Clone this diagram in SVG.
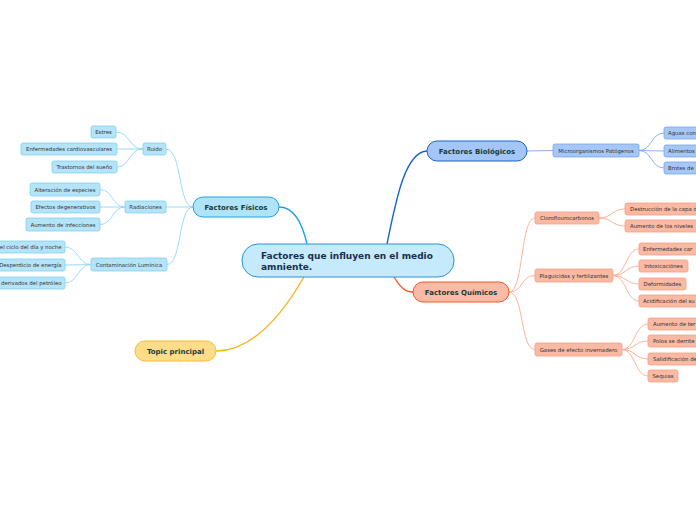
<svg xmlns="http://www.w3.org/2000/svg" width="696" height="520" viewBox="0 0 696 520">
<style>
text{font-family:"DejaVu Sans","Verdana",sans-serif}
.lf{font-size:5.4px;fill:#333}
.mn{font-size:7px;font-weight:bold;fill:#1a3b3a}
.c{text-anchor:middle}
.e{text-anchor:end}
.con path{fill:none}
.fm{stroke:#1ea3e0;stroke-width:1.4}
.fs{stroke:#8ed6f4;stroke-width:0.9}
.bm{stroke:#1b63c6;stroke-width:1.4}
.bs{stroke:#7aa8ee;stroke-width:0.9}
.qm{stroke:#ef5a2b;stroke-width:1.4}
.qs{stroke:#f9a98e;stroke-width:0.9}
.tm{stroke:#f7b521;stroke-width:1.4}
.fl{fill:#b5e4f9;stroke:#7dd0f2;stroke-width:0.8}
.bl{fill:#a6c7f6;stroke:#76a5ec;stroke-width:0.8}
.ql{fill:#f9b9a3;stroke:#f7a084;stroke-width:0.8}
</style>
<rect width="696" height="520" fill="#fff"/>
<g id="connectors" class="con">
<path class="fm" d="M307,244 C302,222 294,207 279,207"/>
<path class="bm" d="M387,244 C396,200 405,152 427,151"/>
<path class="qm" d="M394,277 C400,287 405,292 413,292"/>
<path class="tm" d="M304,277 C282,315 252,351 216,351"/>
<path class="fs" d="M193,207 C178,207 182,149 166,149"/>
<path class="fs" d="M193,207 L166,207"/>
<path class="fs" d="M193,207 C178,207 182,264.5 167,264.5"/>
<path class="fs" d="M143,149 C129,149 130,132 116,132"/>
<path class="fs" d="M143,149 L117,149"/>
<path class="fs" d="M143,149 C129,149 130,167 117,167"/>
<path class="fs" d="M125,207 C112,207 113,189.5 100,189.5"/>
<path class="fs" d="M125,207 L100,207"/>
<path class="fs" d="M125,207 C112,207 113,224.5 100,224.5"/>
<path class="fs" d="M91,264.5 C78,264.5 78,247 65,247"/>
<path class="fs" d="M91,264.5 L65,265"/>
<path class="fs" d="M91,264.5 C78,264.5 78,283 65,283"/>
<path class="bs" d="M527,151 L553,150.5"/>
<path class="bs" d="M639,150.5 C652,150.5 651,133 664,133"/>
<path class="bs" d="M639,150.5 L664,151"/>
<path class="bs" d="M639,150.5 C652,150.5 651,168 664,168"/>
<path class="qs" d="M509,292 C524,292 520,218 535,218"/>
<path class="qs" d="M509,292 C524,292 520,275.5 535,275.5"/>
<path class="qs" d="M509,292 C524,292 520,349.5 535,349.5"/>
<path class="qs" d="M599,218 C612,218 612,209 625,209"/>
<path class="qs" d="M599,218 C612,218 612,226 625,226"/>
<path class="qs" d="M613,275.5 C626,275.5 626,249 639,249"/>
<path class="qs" d="M613,275.5 C626,275.5 626,266 639,266"/>
<path class="qs" d="M613,275.5 C626,275.5 626,284 639,284"/>
<path class="qs" d="M613,275.5 C626,275.5 626,301 639,301"/>
<path class="qs" d="M622,349.5 C635,349.5 635,324 648,324"/>
<path class="qs" d="M622,349.5 C635,349.5 635,341 648,341"/>
<path class="qs" d="M622,349.5 C635,349.5 635,359 648,359"/>
<path class="qs" d="M622,349.5 C635,349.5 635,376 648,376"/>
</g>
<g id="central">
<rect x="242" y="244" width="212" height="33" rx="16" fill="#c5eafb" stroke="#2a93d5" stroke-width="1"/>
<text x="261" y="259" font-size="9" font-weight="bold" fill="#1a2e4d">Factores que influyen en el medio</text>
<text x="261" y="270" font-size="9" font-weight="bold" fill="#1a2e4d">amniente.</text>
</g>
<g id="fisicos">
<rect x="193" y="197" width="86" height="20" rx="10" fill="#aee3f8" stroke="#1ea3e0" stroke-width="1"/>
<text class="mn c" x="236" y="209.5">Factores Físicos</text>
</g>
<g id="biologicos">
<rect x="427" y="141" width="100" height="20" rx="10" fill="#a4c6f7" stroke="#1b63c6" stroke-width="1"/>
<text class="mn c" x="477" y="153.5">Factores Biológicos</text>
</g>
<g id="quimicos">
<rect x="413" y="282" width="96" height="20" rx="10" fill="#f9bba5" stroke="#ef5a2b" stroke-width="1"/>
<text class="mn c" x="461" y="294.5">Factores Químicos</text>
</g>
<g id="topic">
<rect x="135" y="341" width="81" height="20" rx="10" fill="#fddc8a" stroke="#f7bc35" stroke-width="1"/>
<text class="mn c" x="175.5" y="353.5">Topic principal</text>
</g>
<g id="ruido"><rect class="fl" x="143" y="143" width="23" height="12" rx="2"/><text class="lf c" x="154.5" y="151">Ruido</text></g>
<g id="estres"><rect class="fl" x="91" y="126" width="25" height="12" rx="2"/><text class="lf c" x="103.5" y="134">Estres</text></g>
<g id="enfcardio"><rect class="fl" x="21" y="143" width="96" height="12" rx="2"/><text class="lf c" x="69" y="151">Enfermedades cardiovasculares</text></g>
<g id="trastornos"><rect class="fl" x="52" y="161" width="65" height="12" rx="2"/><text class="lf c" x="84.5" y="169">Trastornos del sueño</text></g>
<g id="radiaciones"><rect class="fl" x="125" y="201" width="41" height="12" rx="2"/><text class="lf c" x="145.5" y="209">Radiaciones</text></g>
<g id="alteracion"><rect class="fl" x="30" y="183" width="70" height="13" rx="2"/><text class="lf c" x="65" y="191.5">Alteración de especies</text></g>
<g id="efectos"><rect class="fl" x="31" y="201" width="69" height="12" rx="2"/><text class="lf c" x="65.5" y="209">Efectos degenerativos</text></g>
<g id="infecciones"><rect class="fl" x="26" y="218" width="74" height="13" rx="2"/><text class="lf c" x="63" y="226.5">Aumento de infecciones</text></g>
<g id="contaminacion"><rect class="fl" x="91" y="258" width="76" height="13" rx="2"/><text class="lf c" x="129" y="266.5">Contaminación Lumínica</text></g>
<g id="ciclo"><rect class="fl" x="-10" y="241" width="75" height="12" rx="2"/><text class="lf e" x="61.5" y="249">el ciclo del día y noche</text></g>
<g id="desperdicio"><rect class="fl" x="-10" y="259" width="75" height="12" rx="2"/><text class="lf e" x="61.5" y="267">Desperdicio de energía</text></g>
<g id="derivados"><rect class="fl" x="-10" y="277" width="75" height="12" rx="2"/><text class="lf e" x="61.5" y="285">derivados del petróleo</text></g>
<g id="micro"><rect class="bl" x="553" y="144" width="86" height="13" rx="2"/><text class="lf c" x="596" y="152.5">Microorganismos Patógenos</text></g>
<g id="aguas"><rect class="bl" x="664" y="127" width="40" height="12" rx="2"/><text class="lf" x="668" y="135">Aguas con</text></g>
<g id="alimentos"><rect class="bl" x="664" y="145" width="40" height="12" rx="2"/><text class="lf" x="668" y="153">Alimentos</text></g>
<g id="brotes"><rect class="bl" x="664" y="162" width="40" height="12" rx="2"/><text class="lf" x="668" y="170">Brotes de</text></g>
<g id="cloro"><rect class="ql" x="535" y="212" width="64" height="12" rx="2"/><text class="lf c" x="567" y="220">Cloroflourocarbonos</text></g>
<g id="destruccion"><rect class="ql" x="625" y="203" width="80" height="12" rx="2"/><text class="lf" x="630" y="211">Destrucción de la capa d</text></g>
<g id="niveles"><rect class="ql" x="625" y="220" width="80" height="12" rx="2"/><text class="lf" x="630" y="228">Aumento de los niveles</text></g>
<g id="plaguicidas"><rect class="ql" x="535" y="269" width="78" height="13" rx="2"/><text class="lf c" x="574" y="277.5">Plaguicidas y fertilizantes</text></g>
<g id="enfcar"><rect class="ql" x="639" y="243" width="65" height="12" rx="2"/><text class="lf" x="643" y="251">Enfermedades car</text></g>
<g id="intox"><rect class="ql" x="639" y="260" width="49" height="12" rx="2"/><text class="lf c" x="663.5" y="268">Intoxicaciónes</text></g>
<g id="deform"><rect class="ql" x="639" y="278" width="47" height="12" rx="2"/><text class="lf c" x="662.5" y="286">Deformidades</text></g>
<g id="acid"><rect class="ql" x="639" y="295" width="65" height="12" rx="2"/><text class="lf" x="643" y="303">Acidificación del su</text></g>
<g id="gases"><rect class="ql" x="535" y="343" width="87" height="13" rx="2"/><text class="lf c" x="578.5" y="351.5">Gases de efecto invernadero</text></g>
<g id="temp"><rect class="ql" x="648" y="318" width="55" height="12" rx="2"/><text class="lf" x="653" y="326">Aumento de ter</text></g>
<g id="polos"><rect class="ql" x="648" y="335" width="55" height="12" rx="2"/><text class="lf" x="653" y="343">Polos se derrite</text></g>
<g id="salid"><rect class="ql" x="648" y="353" width="55" height="12" rx="2"/><text class="lf" x="653" y="361">Salidificación de</text></g>
<g id="sequias"><rect class="ql" x="648" y="370" width="30" height="12" rx="2"/><text class="lf c" x="663" y="378">Sequias</text></g>
</svg>
